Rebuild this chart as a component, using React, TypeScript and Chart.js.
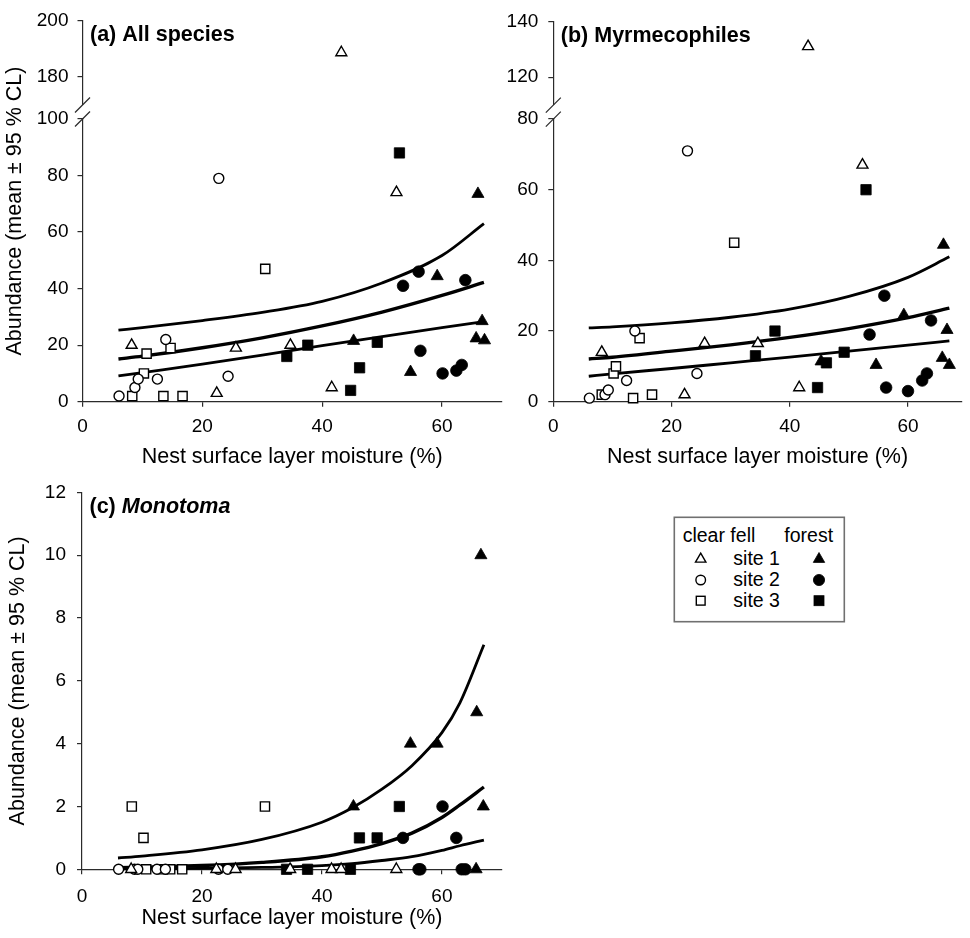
import React, { useEffect, useRef } from 'react';
import { Chart, registerables } from 'chart.js';

Chart.register(...registerables);

const FONT = "'Liberation Sans', Arial, Helvetica, sans-serif";
const AXIS_COLOR = '#2b2b2b';
const TEXT_COLOR = '#000000';

const X_TICKS = [0, 20, 40, 60];
const X_TITLE = 'Nest surface layer moisture (%)';
const Y_TITLE = 'Abundance (mean ± 95 % CL)';
const LEGEND_HEAD = ['clear fell', 'forest'];
const LEGEND_ROWS = ['site 1', 'site 2', 'site 3'];

// ---------- (a) All species ----------
const A_CF1_X = [8.2, 22.4, 25.6, 34.7, 41.6, 43.2, 52.4];
const A_CF1_Y = [20, 3, 19, 20, 5, 188.5, 74];
const A_CF2_X = [6.1, 8.75, 9.3, 12.5, 13.9, 22.75, 24.3];
const A_CF2_Y = [2, 5, 8, 8, 22, 79, 9];
const A_CF3_X = [8.3, 10.25, 10.7, 13.5, 14.7, 16.7, 30.5];
const A_CF3_Y = [2, 10, 17, 2, 19, 2, 47];
const A_F1_X = [45.25, 54.75, 59.2, 65.7, 66.0, 66.7, 67.1];
const A_F1_Y = [21.5, 10.5, 44.4, 22.4, 73.5, 28.5, 21.7];
const A_F2_X = [53.5, 56.1, 56.4, 60.1, 62.4, 63.3, 63.9];
const A_F2_Y = [41, 46, 18, 10, 11, 13, 43];
const A_F3_X = [34.1, 37.6, 44.75, 46.25, 49.2, 52.9];
const A_F3_Y = [16, 20, 4, 12, 21, 88];
const A_FIT_X = [6, 10, 20, 30, 40, 50, 60, 67];
const A_FIT_UPPER = [25.3, 26.2, 28.7, 31.6, 35.5, 42.0, 51.7, 63.0];
const A_FIT_MEAN = [15.1, 16.1, 19.1, 22.6, 26.8, 31.7, 37.6, 42.2];
const A_FIT_LOWER = [9.1, 10.3, 13.3, 16.5, 19.8, 23.0, 26.2, 28.3];
const A_Y_LOW_TICKS = [0, 20, 40, 60, 80, 100];
const A_Y_HIGH_TICKS = [180, 200];

// ---------- (b) Myrmecophiles ----------
const B_CF1_X = [8.2, 22.2, 25.6, 34.6, 41.6, 43.1, 52.3];
const B_CF1_Y = [14, 2, 16.5, 16.5, 4, 131, 67];
const B_CF2_X = [6.1, 8.75, 9.3, 12.4, 13.8, 22.7, 24.3];
const B_CF2_Y = [1, 2, 3.3, 6, 20, 71, 8];
const B_CF3_X = [8.2, 10.2, 10.6, 13.5, 14.6, 16.7, 30.6];
const B_CF3_Y = [2, 8, 10, 1, 18, 2, 45];
const B_F1_X = [45.3, 54.6, 59.3, 65.8, 66.0, 66.6, 67.0];
const B_F1_Y = [11.4, 10.4, 24.5, 12.4, 44.4, 20.3, 10.4];
const B_F2_X = [53.5, 56.0, 56.3, 60.0, 62.4, 63.2, 63.9];
const B_F2_Y = [19, 30, 4, 3, 6, 8, 23];
const B_F3_X = [34.2, 37.5, 44.7, 46.2, 49.2, 52.9];
const B_F3_Y = [13, 20, 4, 11, 14, 60];
const B_FIT_X = [6, 10, 20, 30, 40, 50, 60, 67];
const B_FIT_UPPER = [20.9, 21.2, 22.3, 23.9, 26.2, 29.8, 35.2, 41.0];
const B_FIT_MEAN = [12.1, 12.6, 14.3, 16.1, 18.2, 20.7, 23.8, 26.5];
const B_FIT_LOWER = [7.2, 7.9, 9.4, 11.0, 12.6, 14.3, 16.0, 17.2];
const B_Y_LOW_TICKS = [0, 20, 40, 60, 80];
const B_Y_HIGH_TICKS = [120, 140];

// ---------- (c) Monotoma ----------
const C_CF1_X = [8.2, 22.4, 25.6, 34.7, 41.6, 43.2, 52.4];
const C_CF1_Y = [0, 0, 0, 0, 0, 0, 0];
const C_CF2_X = [6.1, 8.75, 9.3, 12.5, 13.9, 22.75, 24.3];
const C_CF2_Y = [0, 0, 0, 0, 0, 0, 0];
const C_CF3_X = [8.3, 10.25, 10.7, 13.5, 14.7, 16.7, 30.5];
const C_CF3_Y = [2, 1, 0, 0, 0, 0, 2];
const C_F1_X = [45.25, 54.75, 59.2, 65.7, 65.8, 66.5, 66.9];
const C_F1_Y = [2, 4, 4, 0, 5, 10, 2];
const C_F2_X = [53.5, 56.1, 56.4, 60.1, 62.4, 63.3, 63.9];
const C_F2_Y = [1, 0, 0, 2, 1, 0, 0];
const C_F3_X = [34.1, 37.6, 44.75, 46.25, 49.2, 52.9];
const C_F3_Y = [0, 0, 0, 1, 1, 2];
const C_FIT_X = [6, 10, 20, 30, 40, 45, 50, 55, 60, 63, 67];
const C_FIT_UPPER = [0.36, 0.42, 0.62, 0.95, 1.5, 1.95, 2.55, 3.3, 4.35, 5.3, 7.15];
const C_FIT_MEAN = [0.05, 0.07, 0.12, 0.22, 0.4, 0.58, 0.82, 1.15, 1.65, 2.05, 2.62];
const C_FIT_LOWER = [0.01, 0.015, 0.03, 0.06, 0.12, 0.18, 0.28, 0.4, 0.6, 0.75, 0.93];
const C_Y_TICKS = [0, 2, 4, 6, 8, 10, 12];

// marker styles: clear fell site1..3 (open), forest site1..3 (filled)
const MARKERS = [
  { style: 'triangle', filled: false, r: 6.3 },
  { style: 'circle', filled: false, r: 5.0 },
  { style: 'rect', filled: false, r: 6.5 },
  { style: 'triangle', filled: true, r: 7.0 },
  { style: 'circle', filled: true, r: 5.8 },
  { style: 'rect', filled: true, r: 7.3 },
];

type Series = { x: number[]; y: number[] };
type Spec = {
  key: string;
  left: number; top: number; width: number; height: number;
  pad: { left: number; top: number; right: number; bottom: number };
  yWidth: number; xHeight: number; xMax: number;
  lowMax: number; lowTicks: number[];
  high?: { min: number; max: number; ticks: number[] };
  highPx?: number; lowPx?: number;
  series: Series[];
  fitX: number[]; fits: number[][];
  title: string; titleItalic?: string;
  yTitleX?: number;
  xTickPad: number; yTickPad: number; xTitlePad: number;
};

const SPECS: Spec[] = [
  {
    key: 'a', left: 0, top: 0, width: 510, height: 470,
    pad: { left: 0, top: 15, right: 8, bottom: 0 },
    yWidth: 82.5, xHeight: 68.3, xMax: 70,
    lowMax: 100, lowTicks: A_Y_LOW_TICKS,
    high: { min: 164.73, max: 200, ticks: A_Y_HIGH_TICKS },
    highPx: 100, lowPx: 286.7,
    series: [
      { x: A_CF1_X, y: A_CF1_Y }, { x: A_CF2_X, y: A_CF2_Y }, { x: A_CF3_X, y: A_CF3_Y },
      { x: A_F1_X, y: A_F1_Y }, { x: A_F2_X, y: A_F2_Y }, { x: A_F3_X, y: A_F3_Y },
    ],
    fitX: A_FIT_X, fits: [A_FIT_UPPER, A_FIT_MEAN, A_FIT_LOWER],
    title: '(a) All species', yTitleX: 15,
    xTickPad: 9, yTickPad: 9, xTitlePad: 0,
  },
  {
    key: 'b', left: 470, top: 0, width: 500, height: 470,
    pad: { left: 0, top: 15, right: 2, bottom: 0 },
    yWidth: 83.3, xHeight: 68.3, xMax: 69.12,
    lowMax: 80, lowTicks: B_Y_LOW_TICKS,
    high: { min: 104.97, max: 140, ticks: B_Y_HIGH_TICKS },
    highPx: 99.3, lowPx: 287.4,
    series: [
      { x: B_CF1_X, y: B_CF1_Y }, { x: B_CF2_X, y: B_CF2_Y }, { x: B_CF3_X, y: B_CF3_Y },
      { x: B_F1_X, y: B_F1_Y }, { x: B_F2_X, y: B_F2_Y }, { x: B_F3_X, y: B_F3_Y },
    ],
    fitX: B_FIT_X, fits: [B_FIT_UPPER, B_FIT_MEAN, B_FIT_LOWER],
    title: '(b) Myrmecophiles',
    xTickPad: 9, yTickPad: 10, xTitlePad: 0,
  },
  {
    key: 'c', left: 0, top: 470, width: 510, height: 468,
    pad: { left: 0, top: 13.3, right: 8, bottom: 0 },
    yWidth: 82, xHeight: 68.7, xMax: 70,
    lowMax: 12, lowTicks: C_Y_TICKS,
    series: [
      { x: C_CF1_X, y: C_CF1_Y }, { x: C_CF2_X, y: C_CF2_Y }, { x: C_CF3_X, y: C_CF3_Y },
      { x: C_F1_X, y: C_F1_Y }, { x: C_F2_X, y: C_F2_Y }, { x: C_F3_X, y: C_F3_Y },
    ],
    fitX: C_FIT_X, fits: [C_FIT_UPPER, C_FIT_MEAN, C_FIT_LOWER],
    title: '(c) ', titleItalic: 'Monotoma', yTitleX: 18,
    xTickPad: 11, yTickPad: 11, xTitlePad: 7,
  },
];

function fixedTicks(values: number[]) {
  return (scale: any) => {
    scale.ticks = values.map((v) => ({ value: v }));
  };
}

function axisBase(pad: number) {
  return {
    grid: { display: true, drawOnChartArea: false, drawTicks: true, tickLength: 5, color: AXIS_COLOR, lineWidth: 1.2 },
    border: { display: true, color: AXIS_COLOR, width: 1.2 },
    ticks: { font: { family: FONT, size: 19 }, color: TEXT_COLOR, padding: pad, maxRotation: 0 },
  };
}

function buildConfig(spec: Spec): any {
  const datasets: any[] = [];
  spec.series.forEach((s, i) => {
    const m = MARKERS[i];
    const all = s.x.map((x, k) => ({ x, y: s.y[k] }));
    const low = spec.high ? all.filter((p) => p.y <= spec.lowMax) : all;
    const high = spec.high ? all.filter((p) => p.y > spec.lowMax) : [];
    const base = {
      pointStyle: m.style,
      pointRadius: m.r,
      pointHoverRadius: m.r,
      pointBorderWidth: m.filled ? 0.8 : 1.4,
      pointBackgroundColor: m.filled ? '#000' : '#fff',
      pointBorderColor: '#000',
      showLine: false,
      clip: false,
    };
    datasets.push({ ...base, data: low, yAxisID: 'y' });
    if (high.length) datasets.push({ ...base, data: high, yAxisID: 'y2' });
  });
  spec.fits.forEach((f, i) => {
    datasets.push({
      data: spec.fitX.map((x, k) => ({ x, y: f[k] })),
      showLine: true,
      pointRadius: 0,
      borderColor: '#000',
      borderWidth: i === 1 ? 3.4 : 2.8,
      cubicInterpolationMode: 'monotone',
      fill: false,
      clip: false,
      yAxisID: 'y',
    });
  });

  const scales: any = {
    x: {
      type: 'linear', position: 'bottom', min: 0, max: spec.xMax,
      afterBuildTicks: fixedTicks(X_TICKS),
      afterFit: (s: any) => { s.height = spec.xHeight; },
      ...axisBase(spec.xTickPad),
      title: {
        display: true, text: X_TITLE, color: TEXT_COLOR,
        font: { family: FONT, size: 21.5 },
        padding: { top: 0, bottom: spec.xTitlePad },
      },
    },
    y: {
      type: 'linear', position: 'left', min: 0, max: spec.lowMax, weight: 0,
      afterBuildTicks: fixedTicks(spec.lowTicks),
      afterFit: (s: any) => { s.width = spec.yWidth; },
      ...axisBase(spec.yTickPad),
    },
  };
  if (spec.high) {
    scales.y.stack = 'ystack';
    scales.y.stackWeight = spec.lowPx;
    scales.y2 = {
      type: 'linear', position: 'left', min: spec.high.min, max: spec.high.max,
      stack: 'ystack', stackWeight: spec.highPx, weight: 1,
      afterBuildTicks: fixedTicks(spec.high.ticks),
      afterFit: (s: any) => { s.width = spec.yWidth; },
      ...axisBase(spec.yTickPad),
    };
  }

  const deco = {
    id: 'deco_' + spec.key,
    afterDraw(chart: any) {
      const { ctx, chartArea } = chart;
      ctx.save();
      if (spec.high) {
        const yS = chart.scales.y.top;
        const x0 = chartArea.left;
        const c1 = yS - 14;
        const c2 = yS;
        ctx.fillStyle = '#ffffff';
        ctx.fillRect(x0 - 3, c1, 6, c2 - c1 - 1);
        ctx.strokeStyle = AXIS_COLOR;
        ctx.lineWidth = 1.2;
        for (const c of [c1, c2]) {
          ctx.beginPath();
          ctx.moveTo(x0 - 7.5, c + 7.5);
          ctx.lineTo(x0 + 7.5, c - 7.5);
          ctx.stroke();
        }
      }
      ctx.fillStyle = TEXT_COLOR;
      ctx.textAlign = 'left';
      ctx.textBaseline = 'alphabetic';
      ctx.font = `bold 21.5px ${FONT}`;
      const tx = chartArea.left + 7.5;
      const ty = chartArea.top + 21;
      ctx.fillText(spec.title, tx, ty);
      if (spec.titleItalic) {
        const w = ctx.measureText(spec.title).width;
        ctx.font = `italic bold 21.5px ${FONT}`;
        ctx.fillText(spec.titleItalic, tx + w, ty);
      }
      if (spec.yTitleX !== undefined) {
        ctx.save();
        ctx.translate(spec.yTitleX, (chartArea.top + chartArea.bottom) / 2);
        ctx.rotate(-Math.PI / 2);
        ctx.font = `21.5px ${FONT}`;
        ctx.textAlign = 'center';
        ctx.textBaseline = 'middle';
        ctx.fillText(Y_TITLE, 0, 0);
        ctx.restore();
      }
      ctx.restore();
    },
  };

  return {
    type: 'scatter',
    data: { datasets },
    options: {
      responsive: false,
      maintainAspectRatio: false,
      animation: false,
      events: [],
      layout: { padding: spec.pad },
      plugins: { legend: { display: false }, tooltip: { enabled: false }, title: { display: false } },
      scales,
    },
    plugins: [deco],
  };
}

function Panel({ spec }: { spec: Spec }) {
  const ref = useRef<HTMLCanvasElement | null>(null);
  useEffect(() => {
    if (!ref.current) return;
    const chart = new Chart(ref.current, buildConfig(spec));
    return () => chart.destroy();
  }, [spec]);
  return (
    <canvas
      ref={ref}
      width={spec.width}
      height={spec.height}
      style={{ position: 'absolute', left: spec.left, top: spec.top, width: spec.width, height: spec.height }}
    />
  );
}

function Tri({ cx, cy, r, filled }: { cx: number; cy: number; r: number; filled: boolean }) {
  const pts = [
    [cx, cy - r],
    [cx + r * 0.866, cy + r / 2],
    [cx - r * 0.866, cy + r / 2],
  ].map((p) => p.join(',')).join(' ');
  return <polygon points={pts} fill={filled ? '#000' : '#fff'} stroke="#000" strokeWidth={filled ? 0.8 : 1.4} />;
}

function Legend() {
  const rowsY = [48.3, 70, 90.7];
  const baseY = [55, 76, 96.7];
  const openX = 30.7;
  const fillX = 149;
  const shape = (i: number, cx: number, cy: number, filled: boolean) => {
    if (i === 0) return <Tri key={`t${cx}`} cx={cx} cy={cy + 0.8} r={filled ? 6.6 : 6.0} filled={filled} />;
    if (i === 1)
      return <circle key={`c${cx}`} cx={cx} cy={cy} r={filled ? 5.6 : 4.8} fill={filled ? '#000' : '#fff'} stroke="#000" strokeWidth={filled ? 0.8 : 1.4} />;
    const s = filled ? 10 : 8.8;
    return <rect key={`r${cx}`} x={cx - s / 2} y={cy - s / 2} width={s} height={s} fill={filled ? '#000' : '#fff'} stroke="#000" strokeWidth={filled ? 0.8 : 1.4} />;
  };
  return (
    <svg
      width={190}
      height={125}
      style={{ position: 'absolute', left: 670, top: 510 }}
      fontFamily={FONT}
    >
      <rect x={4.3} y={7.3} width={170} height={104.4} fill="#fff" stroke="#707070" strokeWidth={1.6} />
      <text x={12.7} y={31.7} fontSize={19.5} fill={TEXT_COLOR}>{LEGEND_HEAD[0]}</text>
      <text x={114.3} y={31.7} fontSize={19.5} fill={TEXT_COLOR}>{LEGEND_HEAD[1]}</text>
      {LEGEND_ROWS.map((label, i) => (
        <g key={label}>
          {shape(i, openX, rowsY[i], false)}
          <text x={63.3} y={baseY[i]} fontSize={19.5} fill={TEXT_COLOR}>{label}</text>
          {shape(i, fillX, rowsY[i], true)}
        </g>
      ))}
    </svg>
  );
}

export default function App() {
  return (
    <div style={{ position: 'absolute', left: 0, top: 0, width: 970, height: 938, overflow: 'hidden', background: '#fff' }}>
      {SPECS.map((s) => (
        <Panel key={s.key} spec={s} />
      ))}
      <Legend />
    </div>
  );
}
